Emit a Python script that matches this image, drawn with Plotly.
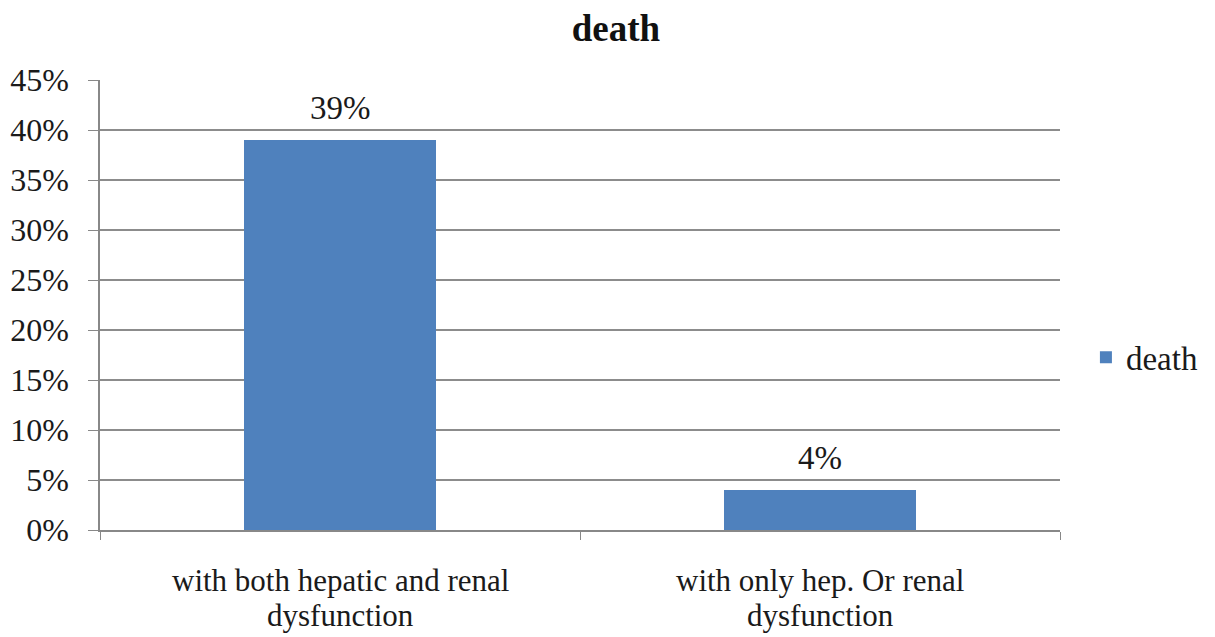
import plotly.graph_objects as go

categories = ["with both hepatic and renal dysfunction", "with only hep. Or renal dysfunction"]
category_lines = [["with both hepatic and renal", "dysfunction"], ["with only hep. Or renal", "dysfunction"]]
values = [0.39, 0.04]
labels = ["39%", "4%"]
tick_vals = [0, 0.05, 0.10, 0.15, 0.20, 0.25, 0.30, 0.35, 0.40, 0.45]
tick_text = ["0%", "5%", "10%", "15%", "20%", "25%", "30%", "35%", "40%", "45%"]

font_family = "Liberation Serif, Times New Roman, serif"
txt_color = "#1a1a1a"

fig = go.Figure()
fig.add_trace(go.Bar(
    x=categories, y=values, name="death",
    marker=dict(color="#4F81BD", line=dict(width=0)),
    width=0.4,
))

# value labels above bars
for cat, val, lab in zip(categories, values, labels):
    fig.add_annotation(
        x=cat, xref="x", y=val, yref="y",
        text=lab, showarrow=False,
        xanchor="center", yanchor="bottom", yshift=12,
        font=dict(family=font_family, size=33, color=txt_color),
    )

# two-line category labels drawn as text under each category
for cat, lines in zip(categories, category_lines):
    for i, line in enumerate(lines):
        fig.add_annotation(
            x=cat, xref="x", y=0, yref="paper",
            text=line, showarrow=False,
            xanchor="center", yanchor="middle",
            yshift=-50.5 - 35 * i,
            font=dict(family=font_family, size=31, color=txt_color),
        )

fig.update_layout(
    width=1207, height=629,
    paper_bgcolor="white", plot_bgcolor="white",
    margin=dict(l=92, r=153, t=72, b=107),
    title=dict(text="<b>death</b>", x=608 / 1207, xanchor="center", y=1 - 20 / 629, yanchor="middle",
               font=dict(family=font_family, size=37, color="#111")),
    font=dict(family=font_family, size=33, color=txt_color),
    showlegend=True,
    legend=dict(x=1.027, xanchor="left", y=0.384, yanchor="middle",
                font=dict(family=font_family, size=33, color=txt_color),
                itemwidth=30, bgcolor="rgba(0,0,0,0)"),
    xaxis=dict(
        type="category", showline=True, linecolor="#888", linewidth=1.5,
        ticks="outside", tickson="boundaries", ticklen=8, tickcolor="#888",
        showticklabels=False, automargin=False,
        showgrid=False,
    ),
    yaxis=dict(
        range=[0, 0.45], tickvals=tick_vals, ticktext=tick_text,
        showline=True, linecolor="#888", linewidth=1.5,
        ticks="outside", ticklen=10, tickcolor="#888",
        ticklabelstandoff=13, automargin=False,
        showgrid=True, gridcolor="#8c8c8c", gridwidth=1.5,
        zeroline=False,
        tickfont=dict(family=font_family, size=32, color=txt_color),
    ),
)

fig.write_html("out.html")
